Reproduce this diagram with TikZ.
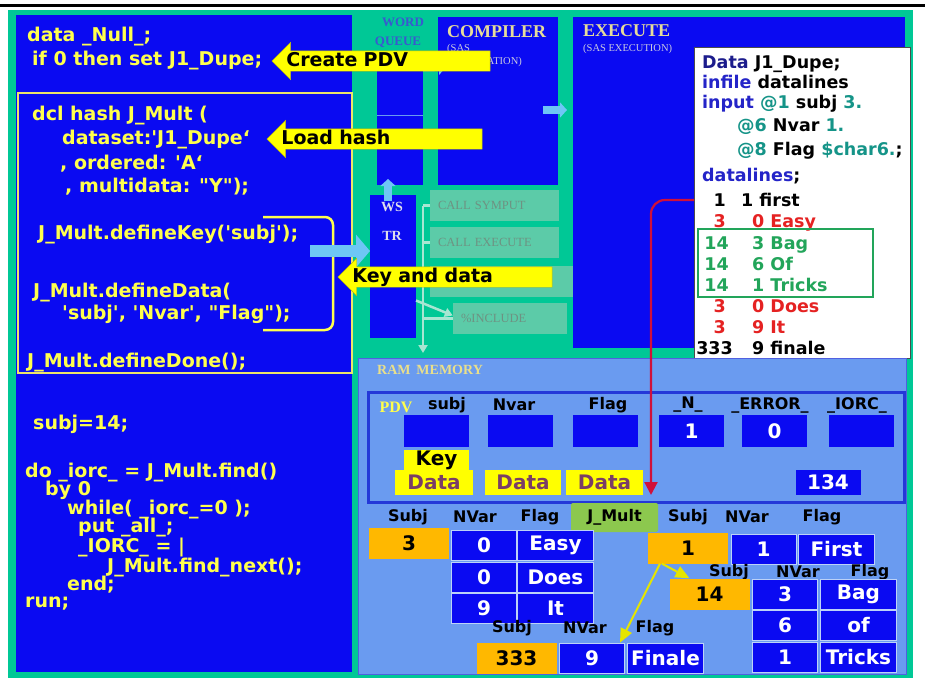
\documentclass[tikz,border=0pt]{standalone}
\usepackage{fontspec}
\setmainfont{DejaVu Sans}
\newfontfamily\serfont{Liberation Serif}
\usepackage{tikz}
\usetikzlibrary{arrows.meta, positioning, shapes.arrows, calc}
\definecolor{slteal}{HTML}{00C896}
\definecolor{slblue}{HTML}{0A0AF2}
\definecolor{slcode}{HTML}{FFFF4D}
\definecolor{slbox}{HTML}{EDE46A}
\definecolor{slyellow}{HTML}{FFFF00}
\definecolor{slram}{HTML}{6A9BF0}
\definecolor{slpdv}{HTML}{2438D8}
\definecolor{slorange}{HTML}{FFB800}
\definecolor{slgreen}{HTML}{8CC84E}
\definecolor{slsky}{HTML}{6EC6F5}
\definecolor{slfade}{HTML}{5CCBA8}
\definecolor{slfadetxt}{HTML}{6E9282}
\definecolor{slfadeln}{HTML}{A8E6D2}
\definecolor{slred}{HTML}{D0103A}
\definecolor{slmauve}{HTML}{7A3E66}
\definecolor{sllabel}{HTML}{E6DC9A}
\definecolor{slsub}{HTML}{C9C9E0}
\definecolor{slwq}{HTML}{3A58D0}
\definecolor{slnavy}{HTML}{1C1C8C}
\definecolor{slkw}{HTML}{2424C8}
\definecolor{slcyan}{HTML}{159488}
\definecolor{sldred}{HTML}{E52222}
\definecolor{sldgreen}{HTML}{22A55A}
\newcommand{\qs}{\textquotesingle}

\begin{document}
\begin{tikzpicture}[x=1pt, y=-1pt,
    panel/.style={fill=slblue, inner sep=0pt, outer sep=0pt, anchor=north west},
    code/.style={anchor=base west, inner sep=0pt, text=slcode, font=\fontsize{19}{20}\selectfont\bfseries},
    ds/.style={anchor=base west, inner sep=0pt, font=\fontsize{17.5}{18}\selectfont\bfseries},
    dsn/.style={ds, anchor=base east},
    title/.style={anchor=west, inner sep=0pt, text=sllabel, font=\serfont\fontsize{18}{18}\selectfont\bfseries},
    subtitle/.style={anchor=west, inner sep=0pt, text=slsub, font=\serfont\fontsize{10.5}{11}\selectfont},
    fadebox/.style={fill=slfade, inner xsep=8pt, inner ysep=0pt, minimum height=31pt, text width=#1, align=left, text=slfadetxt, font=\serfont\fontsize{12.5}{13}\selectfont},
    fadeline/.style={slfadeln, line width=2.5pt},
    yarrow/.style={single arrow, shape border rotate=180, fill=slyellow, draw=slyellow!75!black, line width=0.4pt, single arrow head extend=8.5pt, single arrow tip angle=90, inner xsep=4pt, inner ysep=1pt, outer sep=0pt, text height=14pt, text depth=4pt, align=left, anchor=tip, font=\fontsize{19}{20}\selectfont\bfseries},
    lbarrow/.style={slsky, line width=12pt, -{Triangle[width=32pt, length=14pt]}},
    lbsmall/.style={slsky, line width=8pt, -{Triangle[width=15pt, length=7pt]}},
    hdr/.style={inner sep=0pt, font=\fontsize{16}{16}\selectfont\bfseries},
    keycell/.style={fill=slorange, minimum width=80pt, minimum height=31pt, inner sep=0pt, font=\fontsize{20}{20}\selectfont\bfseries},
    valcell/.style={fill=slblue, draw=slram!45!white, line width=0.8pt, minimum width=65pt, minimum height=30pt, inner sep=0pt, text=white, font=\fontsize{20}{20}\selectfont\bfseries},
    flagcell/.style={valcell, minimum width=76pt},
    pdvcell/.style={fill=slblue, minimum width=65pt, minimum height=32pt, inner sep=0pt, text=white, font=\fontsize{20}{20}\selectfont\bfseries},
    tag/.style={fill=slyellow, inner sep=0pt, font=\fontsize{20}{20}\selectfont\bfseries},
    hashline/.style={slyellow!90!black, line width=2pt, -{Triangle[width=12pt, length=14pt]}},
]
    \useasboundingbox (0,0) rectangle (930,683);

    % frame and background
    \draw[line width=3pt] (0,5) -- (925,5);
    \fill[slteal] (8,10) rectangle (913,678);

    % code panel
    \node[panel, minimum width=336pt, minimum height=657pt] (codep) at (16,15) {};
    \node[panel, fill=none, draw=slbox, line width=2.5pt, minimum width=334pt, minimum height=280pt] (hashdcl) at (18,93) {};

    \node[code] (c1) at (27,41) {data \_Null\_;};
    \node[code] (c2) at (32,65) {if 0 then set J1\_Dupe;};
    \node[code] (c3) at (32,120) {dcl hash J\_Mult (};
    \node[code] (c4) at (62,144) {dataset:\qs J1\_Dupe‘};
    \node[code] (c5) at (60,169) {, ordered: \qs A‘};
    \node[code] (c6) at (65,192) {, multidata: \textquotedbl Y\textquotedbl);};
    \node[code] (c7) at (38,239) {J\_Mult.defineKey(\qs subj\qs);};
    \node[code] (c8) at (33,297) {J\_Mult.defineData(};
    \node[code] (c9) at (62,319) {\qs subj\qs, \qs Nvar\qs, \textquotedbl Flag\textquotedbl);};
    \node[code] (c10) at (27,367) {J\_Mult.defineDone();};
    \node[code] (c11) at (33,429) {subj=14;};
    \node[code] (c12) at (25,477) {do \_iorc\_ = J\_Mult.find()};
    \node[code] (c13) at (45,495) {by 0};
    \node[code] (c14) at (67,514) {while( \_iorc\_=0 );};
    \node[code] (c15) at (78,532) {put \_all\_;};
    \node[code] (c16) at (78,552) {\_IORC\_ = |};
    \node[code] (c17) at (107,572) {J\_Mult.find\_next();};
    \node[code] (c18) at (67,590) {end;};
    \node[code] (c19) at (25,607) {run;};

    % key and data bracket
    \draw[slcode, line width=2.5pt, rounded corners=8pt] (263,217) -- (333,217) -- (333,330) -- (263,330);

    % word queue, compiler, execute
    \node[panel, minimum width=46pt, minimum height=123pt] (wordq) at (377,62) {};
    \draw[slram, line width=0.8pt] (wordq.west |- 0,115) -- (wordq.east |- 0,115);
    \node[inner sep=0pt, text=slwq, font=\serfont\fontsize{13}{13}\selectfont\bfseries] (wqlbl1) at (403,22) {WORD};
    \node[inner sep=0pt, text=slwq, font=\serfont\fontsize{13}{13}\selectfont\bfseries] (wqlbl2) at (398,42) {QUEUE};

    \node[panel, minimum width=120pt, minimum height=168pt] (compiler) at (438,17) {};
    \node[title] (complbl) at (447,32) {COMPILER};
    \node[subtitle] (compsub1) at (447,49) {(SAS};
    \node[subtitle] (compsub2) at (447,62) {COMPILATION)};

    \node[panel, minimum width=332pt, minimum height=331pt] (execute) at (573,17) {};
    \node[title] (exelbl) at (583,31) {EXECUTE};
    \node[subtitle] (exesub) at (583,49) {(SAS EXECUTION)};

    % word scanner
    \node[panel, minimum width=46pt, minimum height=143pt] (wstr) at (370,195) {};
    \node[inner sep=0pt, text=slsub!60!white, font=\serfont\fontsize{14}{14}\selectfont\bfseries] (wslbl) at (392,207) {WS};
    \node[inner sep=0pt, text=slsub!60!white, font=\serfont\fontsize{14}{14}\selectfont\bfseries] (trlbl) at (392,236) {TR};

    % macro routes
    \node[fadebox=113pt] (fsym) at (494.5,205.5) {CALL SYMPUT};
    \node[fadebox=113pt] (fexe) at (494.5,242.5) {CALL EXECUTE};
    \node[fadebox=127pt] (fkd) at (501.5,281.5) {};
    \node[fadebox=98pt] (finc) at (510,318.5) {\%INCLUDE};
    \coordinate (fsplit) at (423,205.5);
    \coordinate (fend) at (423,353);
    \draw[fadeline, -{Triangle[width=9pt, length=8pt]}] (fsplit) -- (fend);
    \draw[fadeline] (fsplit) -- (fsym.west);
    \draw[fadeline] (fsplit |- fexe.west) -- (fexe.west);
    \draw[fadeline] (fsplit |- fkd.west) -- (fkd.west);
    \draw[fadeline] (fsplit |- finc.west) -- (finc.west);
    \draw[fadeline, -{Triangle[width=9pt, length=8pt]}] ([yshift=-34pt]wstr.east) -- ([yshift=3pt]finc.west);

    % light blue flow arrows
    \draw[lbsmall] ([yshift=56pt]wordq.east) -- ([xshift=8pt, yshift=34pt]compiler.west);
    \draw[lbsmall] ([xshift=-15pt, yshift=-9pt]compiler.east) -- ([xshift=-6pt, yshift=72.5pt]execute.west);
    \draw[lbsmall] ([xshift=-5pt, yshift=-6pt]wstr.north) -- ([xshift=-12pt, yshift=6pt]wordq.south);
    \coordinate (trfrom) at (310,251);
    \draw[lbarrow] (trfrom) -- (trfrom -| wstr.west);

    % yellow callouts
    \node[yarrow, text width=199.5pt] (pdvarr) at (272,61) {Create PDV};
    \node[yarrow, text width=196.5pt] (hasharr) at (267,139) {Load hash};
    \node[yarrow, text width=195.5pt] (kdarr) at (338,277) {Key and data};

    % source data step
    \node[fill=white, draw=black!70, line width=0.6pt, minimum width=216pt, minimum height=311pt, inner sep=0pt, anchor=north west] (dsbox) at (694,47) {};
    \node[ds] (d1) at (702,68.5) {\textcolor{slnavy}{Data} J1\_Dupe;};
    \node[ds] (d2) at (702,88.5) {\textcolor{slkw}{infile} datalines};
    \node[ds] (d3) at (702,108.5) {\textcolor{slkw}{input} \textcolor{slcyan}{@1} subj \textcolor{slcyan}{3.}};
    \node[ds] (d4) at (737,131.5) {\textcolor{slcyan}{@6} Nvar \textcolor{slcyan}{1.}};
    \node[ds] (d5) at (737,155.5) {\textcolor{slcyan}{@8} Flag \textcolor{slcyan}{\$char6.};};
    \node[ds] (d6) at (702,181.5) {\textcolor{slkw}{datalines};};
    \node[dsn] (r1n) at (726,206.5) {1};
    \node[ds] (r1v) at (741,206.5) {1 first};
    \node[dsn, text=sldred] (r2n) at (726,227.5) {3};
    \node[ds, text=sldred] (r2v) at (752,227.5) {0 Easy};
    \node[dsn, text=sldgreen] (r3n) at (729,249.5) {14};
    \node[ds, text=sldgreen] (r3v) at (752,249.5) {3 Bag};
    \node[dsn, text=sldgreen] (r4n) at (729,270.5) {14};
    \node[ds, text=sldgreen] (r4v) at (752,270.5) {6 Of};
    \node[dsn, text=sldgreen] (r5n) at (729,291.5) {14};
    \node[ds, text=sldgreen] (r5v) at (752,291.5) {1 Tricks};
    \node[dsn, text=sldred] (r6n) at (726,312.5) {3};
    \node[ds, text=sldred] (r6v) at (752,312.5) {0 Does};
    \node[dsn, text=sldred] (r7n) at (726,333.5) {3};
    \node[ds, text=sldred] (r7v) at (752,333.5) {9 It};
    \node[dsn] (r8n) at (733,354.5) {333};
    \node[ds] (r8v) at (752,354.5) {9 finale};
    \draw[sldgreen, line width=1.5pt] (698,229) rectangle (873,297);

    % RAM memory
    \node[panel, fill=slram, draw=slpdv!80, line width=0.8pt, minimum width=548pt, minimum height=316pt] (ram) at (358,358) {};
    \node[anchor=west, inner sep=0pt, text=sllabel!90!yellow, font=\serfont\fontsize{14}{14}\selectfont\bfseries] (ramlbl) at (377,370) {RAM\, MEMORY};

    % PDV
    \node[draw=slpdv, line width=2.5pt, fill=slram, minimum width=536pt, minimum height=110pt, inner sep=0pt, anchor=north west] (pdv) at (367,391) {};
    \node[inner sep=0pt, text=slcode, font=\serfont\fontsize{16}{16}\selectfont\bfseries] (pdvlbl) at (396,407) {PDV};
    \node[hdr] (ph1) at (447,405) {subj};
    \node[hdr] (ph2) at (514,405) {Nvar};
    \node[hdr] (ph3) at (608,405) {Flag};
    \node[hdr] (ph4) at (688,405) {\_N\_};
    \node[hdr] (ph5) at (770,405) {\_ERROR\_};
    \node[hdr] (ph6) at (857,405) {\_IORC\_};
    \node[pdvcell] (pv1) at (436.5,431) {};
    \node[pdvcell] (pv2) at (520.5,431) {};
    \node[pdvcell] (pv3) at (605.5,431) {};
    \node[pdvcell] (pv4) at (691.5,431) {1};
    \node[pdvcell] (pv5) at (774.5,431) {0};
    \node[pdvcell] (pv6) at (861.5,431) {};
    \node[tag, minimum width=65pt, minimum height=21pt] (keytag) at (436.5,460) {Key};
    \node[tag, text=slmauve, minimum width=78pt, minimum height=25pt] (dt1) at (434,482.5) {Data};
    \node[tag, text=slmauve, minimum width=76pt, minimum height=25pt] (dt2) at (523,482.5) {Data};
    \node[tag, text=slmauve, minimum width=77pt, minimum height=25pt] (dt3) at (604.5,482.5) {Data};
    \node[pdvcell, minimum height=25pt] (nobs) at (828,482.5) {134};

    % hash object J_Mult
    \node[fill=slgreen, rounded corners=2pt, minimum width=87pt, minimum height=29pt, inner sep=0pt, font=\fontsize{16}{16}\selectfont\bfseries] (jmult) at (614.5,517.5) {J\_Mult};

    \node[hdr] (ah1) at (408,517) {Subj};
    \node[hdr] (ah2) at (475,517) {NVar};
    \node[hdr] (ah3) at (540,517) {Flag};
    \node[keycell] (a0) at (409,543) {3};
    \node[valcell] (a1) at (484,545) {0};
    \node[flagcell] (a2) at (555.5,545) {Easy};
    \node[valcell] (a3) at (484,577) {0};
    \node[flagcell] (a4) at (555.5,577) {Does};
    \node[valcell] (a5) at (484,608) {9};
    \node[flagcell] (a6) at (555.5,608) {It};

    \node[hdr] (bh1) at (688,517) {Subj};
    \node[hdr] (bh2) at (747,517) {NVar};
    \node[hdr] (bh3) at (822,517) {Flag};
    \node[keycell] (b0) at (688,548) {1};
    \node[valcell] (b1) at (763.5,549) {1};
    \node[flagcell] (b2) at (836.5,549) {First};

    \node[hdr] (ch1) at (729,572) {Subj};
    \node[hdr] (ch2) at (798,572) {NVar};
    \node[hdr] (ch3) at (870,572) {Flag};
    \node[keycell] (c0) at (709.5,594) {14};
    \node[valcell] (cv1) at (785,594) {3};
    \node[flagcell] (cf1) at (858.5,594) {Bag};
    \node[valcell] (cv2) at (785,625.5) {6};
    \node[flagcell] (cf2) at (858.5,625.5) {of};
    \node[valcell] (cv3) at (785,657.5) {1};
    \node[flagcell] (cf3) at (858.5,657.5) {Tricks};

    \node[hdr] (dh1) at (512,628) {Subj};
    \node[hdr] (dh2) at (585,628) {NVar};
    \node[hdr] (dh3) at (655,628) {Flag};
    \node[keycell] (d0) at (516.5,658.5) {333};
    \node[valcell] (dv1) at (592,658) {9};
    \node[flagcell] (df1) at (665.5,658) {Finale};

    % ordered traversal
    \draw[hashline] ([xshift=-26pt]b0.south) -- ([xshift=-20pt]c0.north);
    \draw[hashline] ([xshift=-28pt]b0.south) -- ([xshift=28pt]dv1.north);

    % read of first record
    \coordinate (redend) at (651,495);
    \draw[slred, line width=2.2pt, rounded corners=14pt, -{Triangle[width=13pt, length=13pt]}]
        (dsbox.west |- r1v.west) -| (redend);
\end{tikzpicture}
\end{document}
